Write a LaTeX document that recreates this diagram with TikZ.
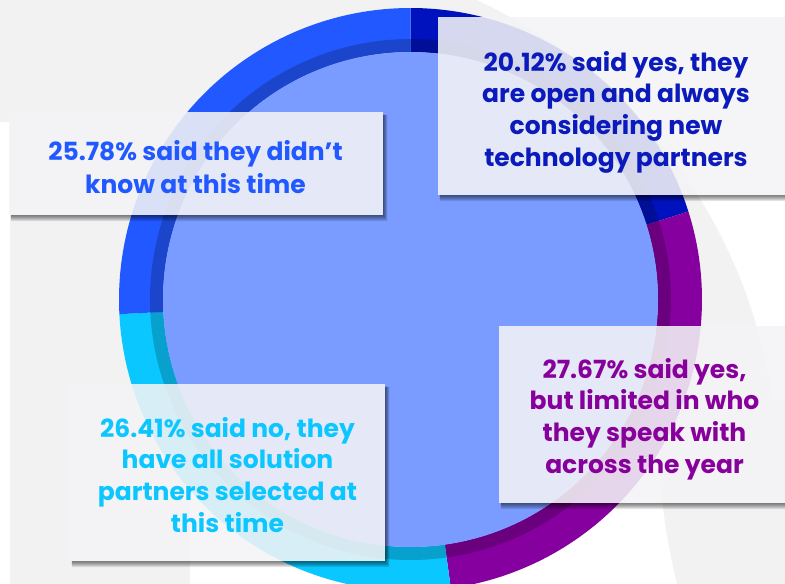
\documentclass[tikz,border=0pt]{standalone}
\usepackage{fontspec}
\setmainfont{Poppins}
\usetikzlibrary{calc}
\definecolor{cblue}{HTML}{2158FF}
\definecolor{cnavy}{HTML}{0012BE}
\definecolor{cpurple}{HTML}{85009E}
\definecolor{ccyan}{HTML}{0AC8FF}
\definecolor{cdisk}{HTML}{7A9BFF}
\definecolor{bggray}{HTML}{F2F2F2}
\definecolor{boxfill}{HTML}{F4F4F6}
\definecolor{tblue}{HTML}{2158FF}
\definecolor{tnavy}{HTML}{0A1ABB}
\definecolor{tcyan}{HTML}{0CC6FF}
\definecolor{tpurple}{HTML}{88009C}
\begin{document}
\begin{tikzpicture}[x=1pt,y=-1pt,
  boxstyle/.style={rectangle, fill=boxfill, fill opacity=0.88, draw=none, inner sep=0pt},
  lbl/.style={anchor=base, inner sep=0pt, font=\fontsize{25}{30}\selectfont\bfseries},
  shadowlayer/.style={fill=black, fill opacity=0.1, draw=none}]
\useasboundingbox (0,0) rectangle (785,584);
\fill[white] (0,0) rectangle (785,584);
% background shapes
\fill[bggray] (10,0) rectangle (190,584);
\fill[bggray] (0,0) rectangle (200,122);
\begin{scope}
  \clip (258,471) circle[radius=519];
  \fill[bggray] (0,0) rectangle (785,122);
  \fill[bggray] (10,0) rectangle (785,450);
\end{scope}
\begin{scope}
  \clip (0,400) rectangle (785,584);
  \fill[bggray] (1259,437) circle[radius=600];
\end{scope}
% donut
\begin{scope}[shift={(410.5,299.5)}, y=1pt]
  \foreach \a/\b/\c in {90/17.57/cnavy, 17.57/-82.04/cpurple, -82.04/-177.12/ccyan, -177.12/-270/cblue}{
    \fill[\c] (\a:291.5) arc[start angle=\a, end angle=\b, radius=291.5] -- (\b:247.5) arc[start angle=\b, end angle=\a, radius=247.5] -- cycle;
    \fill[\c!80!black] (\a:260.5) arc[start angle=\a, end angle=\b, radius=260.5] -- (\b:247.5) arc[start angle=\b, end angle=\a, radius=247.5] -- cycle;
  }
  \fill[cdisk] (0,0) circle[radius=247.5];
\end{scope}
% boxes
\node[boxstyle, minimum width=374pt, minimum height=103pt] (b1) at (196,163.5) {};
\node[boxstyle, minimum width=362pt, minimum height=178pt] (b2) at (619,106) {};
\node[boxstyle, minimum width=315pt, minimum height=177pt] (b3) at (227.5,472.5) {};
\node[boxstyle, minimum width=301pt, minimum height=177pt] (b4) at (649.5,414.5) {};
% shadows
\foreach \b in {b1,b2,b3,b4}{
  \foreach \k in {1,...,6}{
    \fill[shadowlayer] ($(\b.south west)+(2,0)$) -- (\b.south east) -- ($(\b.north east)+(0,3)$) -- ($(\b.north east)+(0.7*\k,3)$) -- ($(\b.south east)+(0.7*\k,\k)$) -- ($(\b.south west)+(2,\k)$) -- cycle;
  }
}
% texts
\node[lbl, text=tblue] (t1a) at (195.5,160) {25.78\% said they didn’t};
\node[lbl, text=tblue] (t1b) at (195.5,193) {know at this time};
\node[lbl, text=tnavy] (t2a) at (616,71) {20.12\% said yes, they};
\node[lbl, text=tnavy] (t2b) at (616,102.7) {are open and always};
\node[lbl, text=tnavy] (t2c) at (616,134.4) {considering new};
\node[lbl, text=tnavy] (t2d) at (616,166) {technology partners};
\node[lbl, text=tcyan] (t3a) at (227.5,437) {26.41\% said no, they};
\node[lbl, text=tcyan] (t3b) at (227.5,468.7) {have all solution};
\node[lbl, text=tcyan] (t3c) at (227.5,500.4) {partners selected at};
\node[lbl, text=tcyan] (t3d) at (227.5,532) {this time};
\node[lbl, text=tpurple] (t4a) at (644.5,378) {27.67\% said yes,};
\node[lbl, text=tpurple] (t4b) at (644.5,409.7) {but limited in who};
\node[lbl, text=tpurple] (t4c) at (644.5,441.4) {they speak with};
\node[lbl, text=tpurple] (t4d) at (644.5,473) {across the year};
\end{tikzpicture}
\end{document}
